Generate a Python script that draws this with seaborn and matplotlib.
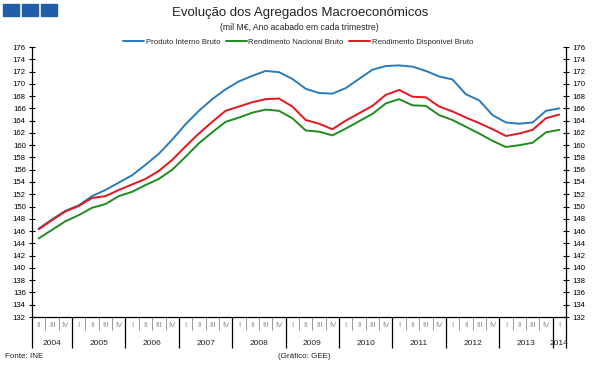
import pandas as pd
import matplotlib.pyplot as plt
import matplotlib.transforms as mtransforms
from matplotlib.patches import Rectangle
import numpy as np
import seaborn as sns

# Data (mil M€, ano acabado em cada trimestre), 2004 T2 .. 2014 T1
quarters = (['II', 'III', 'IV'] + ['I', 'II', 'III', 'IV'] * 9 + ['I'])
years = ['2004', '2005', '2006', '2007', '2008', '2009', '2010', '2011', '2012', '2013', '2014']
year_len = [3, 4, 4, 4, 4, 4, 4, 4, 4, 4, 1]

pib = [146.4, 147.9, 149.3, 150.2, 151.7, 152.7, 153.9, 155.1, 156.8, 158.6,
       160.9, 163.4, 165.6, 167.5, 169.1, 170.4, 171.3, 172.1, 171.9, 170.8,
       169.2, 168.5, 168.4, 169.3, 170.8, 172.3, 172.9, 173.0, 172.8, 172.1,
       171.2, 170.7, 168.3, 167.3, 164.9, 163.7, 163.5, 163.7, 165.6, 166.0]
rnb = [144.8, 146.2, 147.6, 148.6, 149.8, 150.4, 151.7, 152.4, 153.5, 154.5,
       156.0, 158.1, 160.3, 162.1, 163.8, 164.5, 165.3, 165.8, 165.6, 164.4,
       162.4, 162.2, 161.6, 162.7, 163.9, 165.1, 166.8, 167.5, 166.5, 166.4,
       164.9, 164.1, 163.0, 161.9, 160.7, 159.7, 160.0, 160.4, 162.1, 162.5]
rdb = [146.3, 147.8, 149.2, 150.1, 151.4, 151.7, 152.7, 153.6, 154.5, 155.8,
       157.6, 159.8, 161.9, 163.8, 165.6, 166.3, 167.0, 167.5, 167.6, 166.3,
       164.1, 163.5, 162.6, 164.0, 165.2, 166.4, 168.2, 169.0, 167.9, 167.8,
       166.3, 165.5, 164.5, 163.6, 162.6, 161.5, 161.9, 162.5, 164.4, 165.0]

series = ['Produto Interno Bruto', 'Rendimento Nacional Bruto', 'Rendimento Disponível Bruto']
colors = ['#2a7ab9', '#1e8c1e', '#e3161c']

n = len(pib)
df = pd.DataFrame({
    't': list(range(n)) * 3,
    'valor': pib + rnb + rdb,
    'serie': [series[0]] * n + [series[1]] * n + [series[2]] * n,
})

sns.set_style('white')
plt.rcParams['font.family'] = ['Liberation Sans', 'DejaVu Sans']

fig = plt.figure(figsize=(5.96, 3.67), dpi=100)
ax = fig.add_axes([32 / 596, 1 - 317 / 367, 534 / 596, 270 / 367])

sns.lineplot(data=df, x='t', y='valor', hue='serie', palette=colors,
             linewidth=1.4, sort=False, ax=ax, legend=True)

ax.set_xlim(-0.5, n - 0.5)
ax.set_ylim(132, 176)
ax.set_yticks(np.arange(132, 177, 2))
ax.set_xlabel('')
ax.set_ylabel('')

for s in ['left', 'right', 'bottom']:
    ax.spines[s].set_visible(True)
    ax.spines[s].set_color('black')
    ax.spines[s].set_linewidth(0.9)
ax.spines['top'].set_visible(False)

ax.tick_params(axis='y', which='major', direction='inout', length=5, width=0.8,
               left=True, right=True, labelleft=True, labelright=True,
               labelsize=5.6, colors='black', pad=2)

# x axis: quarter separators (minor) and year separators (major)
bounds = np.arange(-0.5, n, 1.0)
year_bounds = [-0.5] + list(np.cumsum(year_len) - 0.5)
minor_bounds = [b for b in bounds if b not in year_bounds]
ax.set_xticks(year_bounds)
ax.set_xticks(minor_bounds, minor=True)
ax.tick_params(axis='x', which='major', direction='out', length=22, width=0.9,
               color='black', labelbottom=False, bottom=True)
ax.tick_params(axis='x', which='minor', direction='out', length=9, width=0.7,
               color='#9a9a9a', labelbottom=False, bottom=True)

trans = mtransforms.blended_transform_factory(ax.transData, ax.transAxes)
for i, q in enumerate(quarters):
    ax.text(i, -0.03, q, transform=trans, ha='center', va='center',
            fontsize=5.6, color='#8a8a8a')
start = 0
for y, ln in zip(years, year_len):
    ax.text(start + (ln - 1) / 2, -0.097, y, transform=trans, ha='center',
            va='center', fontsize=6, color='#222222')
    start += ln

# legend
handles, labels = ax.get_legend_handles_labels()
ax.get_legend().remove()
fig.legend(handles, labels, loc='center', bbox_to_anchor=(0.5, 1 - 42 / 367),
           ncol=3, frameon=False, fontsize=5.6, handlelength=2.7,
           handletextpad=0.2, columnspacing=0.7, borderaxespad=0)

# titles
fig.text(0.503, 1 - 13 / 367, 'Evolução dos Agregados Macroeconómicos',
         ha='center', va='center', fontsize=9.5, color='#222222')
fig.text(0.503, 1 - 27 / 367, '(mil M€, Ano acabado em cada trimestre)',
         ha='center', va='center', fontsize=6.2, color='#222222')

# decorative squares top-left
for x0 in [3, 22, 41]:
    fig.patches.append(Rectangle((x0 / 596, 1 - 16 / 367), 16 / 596, 12 / 367,
                                 transform=fig.transFigure, color='#1f5ea8'))

fig.text(5 / 596, 1 - 357 / 367, 'Fonte: INE', ha='left', va='center',
         fontsize=5.8, color='#222222')
fig.text(278 / 596, 1 - 357 / 367, '(Gráfico: GEE)', ha='left', va='center',
         fontsize=5.8, color='#222222')

fig.savefig('out.png', dpi=100)
